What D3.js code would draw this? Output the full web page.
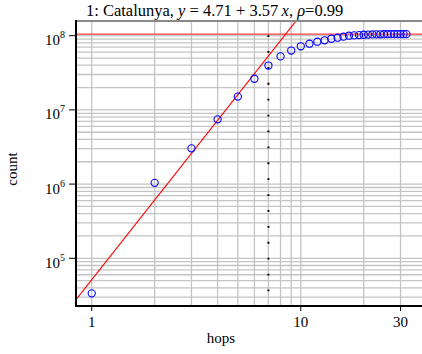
<!DOCTYPE html>
<html>
<head>
<meta charset="utf-8">
<script src="https://cdn.jsdelivr.net/npm/d3@7"></script>
<style>
  body { margin: 0; background: #fff; }
  svg { display: block; font-family: "Liberation Serif", serif; }
</style>
</head>
<body>
<svg id="chart" width="422" height="354"></svg>
<script>
// hop-plot data
var hops = [1, 2, 3, 4, 5, 6, 7, 8, 9, 10, 11, 12, 13, 14, 15, 16,
            17, 18, 19, 20, 21, 22, 23, 24, 25, 26, 27, 28, 29, 30, 31, 32];
var counts = [3.37e4, 1.04e6, 3.03e6, 7.46e6, 1.51e7, 2.63e7, 3.96e7, 5.26e7,
              6.31e7, 7.2e7, 7.8e7, 8.3e7, 8.67e7, 9.1e7, 9.4e7, 9.7e7,
              1.0e8, 1.01e8, 1.02e8, 1.03e8, 1.035e8, 1.04e8, 1.043e8, 1.045e8,
              1.047e8, 1.048e8, 1.049e8, 1.05e8, 1.05e8, 1.05e8, 1.05e8, 1.05e8];
var fitIntercept = 4.71, fitSlope = 3.57;   // log10(y) = a + b*log10(x)
var maxCount = 1.05e8;
var effDiameter = 7;
var xTicks = [1, 10, 30];
var yTicks = [1e5, 1e6, 1e7, 1e8];

var svg = d3.select("#chart");
// note: "top" is reserved on window, so use p* names
var pLeft = 76, pRight = 422, pTop = 21, pBottom = 306;

var x = d3.scaleLog().domain([0.841, 38.0]).range([pLeft, pRight]);
var y = d3.scaleLog().domain([22750, 1.578e8]).range([pBottom, pTop]);

// minor grid
var xGrid = [1, 2, 3, 4, 5, 6, 7, 8, 9, 10, 20, 30];
var yGrid = [];
for (var k = 4; k <= 8; k++) {
    for (var m = 1; m <= 9; m++) {
        var v = m * Math.pow(10, k);
        if (v > y.domain()[0] && v < y.domain()[1]) yGrid.push(v);
    }
}

var grid = svg.append("g").attr("class", "grid");
grid.selectAll(".vg").data(xGrid).enter().append("line")
    .attr("x1", function (d) { return x(d); })
    .attr("x2", function (d) { return x(d); })
    .attr("y1", pTop).attr("y2", pBottom)
    .attr("stroke", "#c4c4c4").attr("stroke-width", 1.3);
grid.selectAll(".hg").data(yGrid).enter().append("line")
    .attr("y1", function (d) { return y(d); })
    .attr("y2", function (d) { return y(d); })
    .attr("x1", pLeft).attr("x2", pRight)
    .attr("stroke", "#c4c4c4").attr("stroke-width", 1.3);

// clip for lines
svg.append("clipPath").attr("id", "plotclip").append("rect")
    .attr("x", pLeft).attr("y", pTop).attr("width", pRight - pLeft).attr("height", pBottom - pTop);

// effective diameter marker
svg.append("line")
    .attr("x1", x(effDiameter)).attr("x2", x(effDiameter))
    .attr("y1", y(maxCount) + 1).attr("y2", pBottom)
    .attr("stroke", "#000").attr("stroke-width", 2)
    .attr("stroke-dasharray", "1.8,14.1");

// max count line
svg.append("line")
    .attr("x1", pLeft).attr("x2", pRight)
    .attr("y1", y(maxCount)).attr("y2", y(maxCount))
    .attr("stroke", "#ff3a3a").attr("stroke-width", 1.4);

// fit line
var fitLine = d3.line()
    .x(function (d) { return x(d); })
    .y(function (d) { return y(Math.pow(10, fitIntercept + fitSlope * Math.log10(d))); });
svg.append("path")
    .datum(x.domain())
    .attr("d", fitLine)
    .attr("clip-path", "url(#plotclip)")
    .attr("fill", "none").attr("stroke", "#ff0000").attr("stroke-width", 1.1);

// points
svg.selectAll(".dot").data(hops).enter().append("circle")
    .attr("class", "dot")
    .attr("cx", function (d) { return x(d); })
    .attr("cy", function (d, i) { return y(counts[i]); })
    .attr("r", 3.6)
    .attr("fill", "none").attr("stroke", "#0000ff").attr("stroke-width", 1.1);

// frame
svg.append("line").attr("x1", pLeft).attr("x2", pRight).attr("y1", pTop).attr("y2", pTop)
    .attr("stroke", "#888").attr("stroke-width", 2);
svg.append("line").attr("x1", pLeft).attr("x2", pLeft).attr("y1", pTop - 1).attr("y2", pBottom + 1)
    .attr("stroke", "#000").attr("stroke-width", 2);
svg.append("line").attr("x1", pLeft - 1).attr("x2", pRight).attr("y1", pBottom).attr("y2", pBottom)
    .attr("stroke", "#000").attr("stroke-width", 2);

// x ticks
var xt = svg.append("g").selectAll("g").data(xTicks).enter().append("g")
    .attr("transform", function (d) { return "translate(" + x(d) + ",0)"; });
xt.append("line").attr("y1", pBottom).attr("y2", pBottom + 5)
    .attr("stroke", "#000").attr("stroke-width", 1);
xt.append("text").attr("y", pBottom + 21).attr("text-anchor", "middle")
    .attr("font-size", 15).text(function (d) { return d; });

// y ticks
var yt = svg.append("g").selectAll("g").data(yTicks).enter().append("g")
    .attr("transform", function (d) { return "translate(0," + y(d) + ")"; });
yt.append("line").attr("x1", pLeft - 7).attr("x2", pLeft)
    .attr("stroke", "#000").attr("stroke-width", 1);
var ytxt = yt.append("text").attr("x", 45).attr("y", 9.5).attr("font-size", 15);
ytxt.append("tspan").text("10");
ytxt.append("tspan").attr("font-size", 10).attr("dy", -7)
    .text(function (d) { return Math.round(Math.log10(d)); });

// axis labels
svg.append("text").attr("x", 221).attr("y", 343).attr("text-anchor", "middle")
    .attr("font-size", 15).text("hops");
svg.append("text").attr("transform", "translate(17,169) rotate(-90)")
    .attr("text-anchor", "middle").attr("font-size", 15).text("count");

// title
var title = svg.append("text").attr("x", 86).attr("y", 16).attr("font-size", 16.5);
title.append("tspan").text("1: Catalunya, ");
title.append("tspan").attr("font-style", "italic").text("y");
title.append("tspan").text(" = 4.71 + 3.57\u2009");
title.append("tspan").attr("font-style", "italic").text("x");
title.append("tspan").text(",  ");
title.append("tspan").attr("font-style", "italic").text("\u03c1");
title.append("tspan").text("=0.99");
</script>
</body>
</html>
